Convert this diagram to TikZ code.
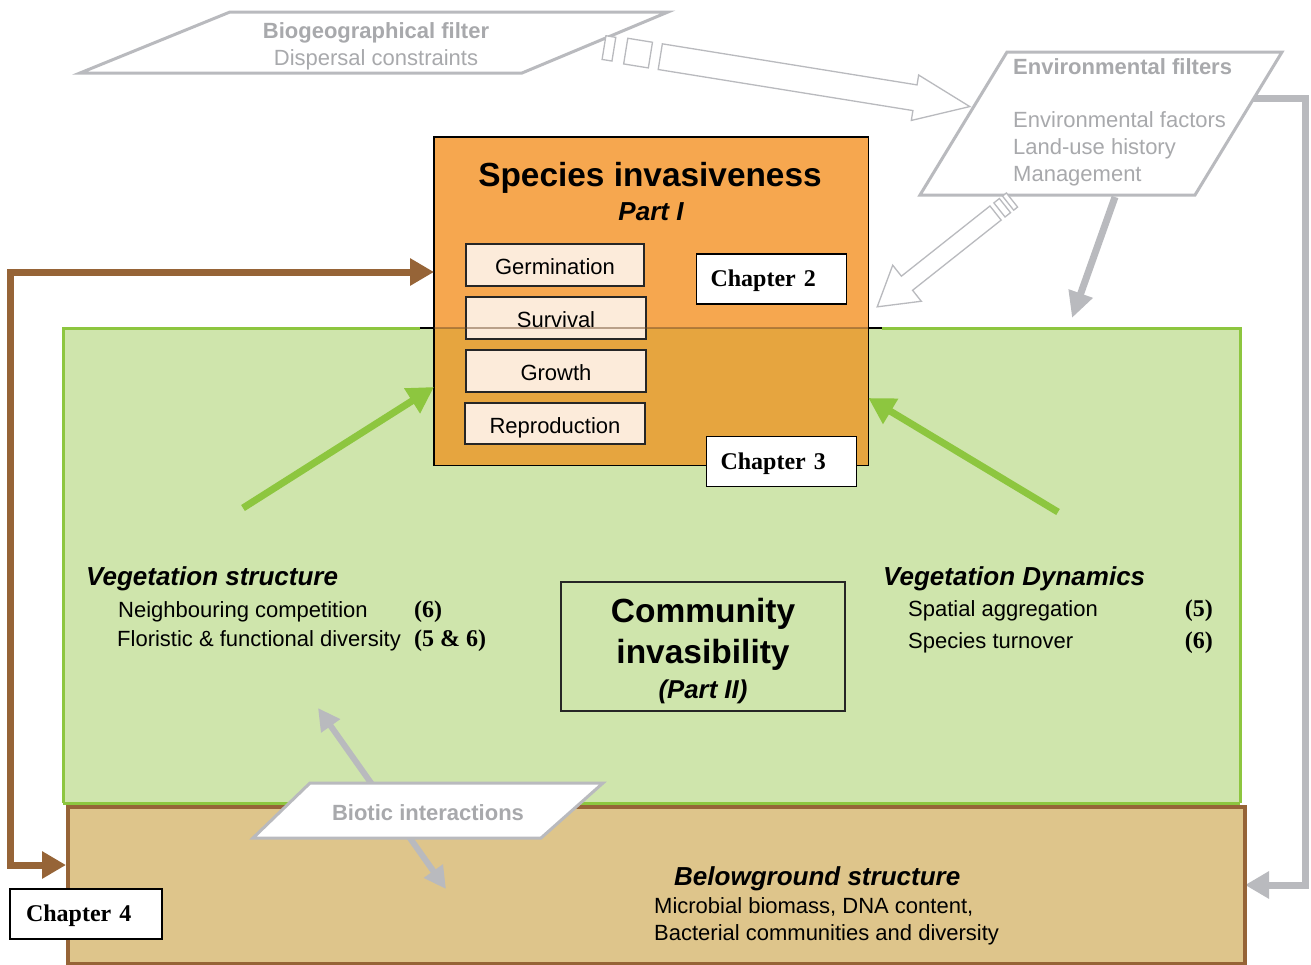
\documentclass[tikz,border=0pt]{standalone}
\usepackage{fontspec}
\setmainfont{Liberation Sans}
\newfontfamily\chapfont{Liberation Serif}
\usetikzlibrary{arrows.meta,calc}
\definecolor{orangefill}{RGB}{246,167,79}
\definecolor{olivetint}{RGB}{170,157,0}
\definecolor{creambox}{RGB}{252,235,218}
\definecolor{leaf}{RGB}{141,198,63}
\definecolor{leaffill}{RGB}{207,229,172}
\definecolor{soil}{RGB}{150,100,55}
\definecolor{soilfill}{RGB}{222,197,139}
\definecolor{haze}{RGB}{185,186,190}
\definecolor{hazetext}{RGB}{168,169,172}
\newcommand{\setfs}[1]{\fontsize{#1}{#1}\selectfont}

\begin{document}
\begin{tikzpicture}[x=1pt,y=-1pt,
  stagebox/.style={draw=black!85, line width=1.4pt, fill=creambox, minimum width=180pt,
    minimum height=42pt, inner sep=0pt, text height=22pt, text depth=2.2pt, font=\setfs{22}},
  chapbox/.style={draw=black, line width=1.4pt, fill=white, minimum height=50pt,
    text width=122pt, inner xsep=14pt, inner ysep=0pt, align=left,
    text height=16.5pt, text depth=1.2pt,
    font=\chapfont\bfseries\setfs{24}},
  filterbox/.style={draw=haze, line width=3pt, fill=white, line join=miter},
  hollow/.style={draw=haze, line width=1.3pt, fill=white, line join=miter},
  grayarrow/.style={draw=haze, line width=7pt, -{Triangle[length=26pt,width=24pt]}},
  grayelbow/.style={draw=haze, line width=7pt, line join=miter, -{Triangle[length=24pt,width=26pt]}},
  graydouble/.style={draw=haze, line width=6pt, {Triangle[length=22pt,width=22pt]}-{Triangle[length=22pt,width=22pt]}},
  greenarrow/.style={draw=leaf, line width=7pt, -{Triangle[length=26pt,width=28pt]}},
  brownlink/.style={draw=soil, line width=7pt, line join=miter,
    {Triangle[length=24pt,width=26pt]}-{Triangle[length=24pt,width=26pt]}},
  txt/.style={inner sep=0pt},
  graytxt/.style={inner sep=0pt, text=hazetext, font=\setfs{22}},
  numtxt/.style={inner sep=0pt, font=\chapfont\bfseries\setfs{24}}
]
\useasboundingbox[fill=white] (0,0) rectangle (1311,964);

% ---- elbow from the environmental filters down to the soil layer
\coordinate (envR) at (1250,98);
\coordinate (elbowA) at (1305,98);
\coordinate (elbowB) at (1305,885);
\coordinate (soilR) at (1245,885);
\draw[grayelbow] (envR) -- (elbowA) -- (elbowB) -- (soilR);

% ---- biogeographical filter
\draw[filterbox] (230,12) -- (668,12) -- (522,73) -- (80,73) -- cycle;
\node[graytxt, font=\bfseries\setfs{22}, anchor=base] (bio1) at (376,38) {Biogeographical filter};
\node[graytxt, anchor=base] (bio2) at (376,65) {Dispersal constraints};

% ---- environmental filters
\draw[filterbox] (1007,52) -- (1282,52) -- (1195,195) -- (920,195) -- cycle;
\node[graytxt, font=\bfseries\setfs{22}, anchor=base west] (env0) at (1013,74) {Environmental filters};
\node[graytxt, anchor=base west] (env1) at (1013,127) {Environmental factors};
\node[graytxt, anchor=base west] (env2) at (1013,154) {Land-use history};
\node[graytxt, anchor=base west] (env3) at (1013,181) {Management};

% ---- hollow arrow: dispersal towards the environmental filters
\begin{scope}[shift={(604,47.6)}, rotate=-9.16]
  \draw[hollow] (0,-12) rectangle (10,12);
  \draw[hollow] (22,-13) rectangle (47,13);
  \draw[hollow] (57,-13) -- (315,-13) -- (315,-23) -- (370.5,0) -- (315,23) -- (315,13) -- (57,13) -- cycle;
\end{scope}

% ---- hollow arrow: environmental filters towards species invasiveness
\begin{scope}[shift={(1012,200)}, rotate=218.4]
  \draw[hollow] (0,-9) rectangle (5,9);
  \draw[hollow] (9,-9) rectangle (16,9);
  \draw[hollow] (21,-9) -- (134,-9) -- (134,-23) -- (172,0) -- (134,23) -- (134,9) -- (21,9) -- cycle;
\end{scope}

% ---- environmental filters acting on the community
\coordinate (envB) at (1115,197);
\coordinate (vegTop) at (1072,318);
\draw[grayarrow] (envB) -- (vegTop);

% ---- vegetation layer
\node[fill=leaffill, minimum width=1177pt, minimum height=475pt, inner sep=0pt, anchor=north west] (veg) at (63,328) {};
\draw[leaf, line width=3pt] (420,328) -- (veg.north west) -- (veg.south west);
\draw[leaf, line width=3pt] (882,328) -- (veg.north east) -- (veg.south east);
\draw[leaf, line width=3pt] (veg.south west) -- (veg.south east);
\draw[black, line width=1.2pt] (420,328) -- (882,328);

% ---- soil layer
\node[draw=soil, line width=4pt, fill=soilfill, minimum width=1177pt, minimum height=157pt,
  inner sep=0pt, anchor=north west] (soil) at (66,805) {};

% ---- species invasiveness
\node[fill=orangefill, minimum width=434pt, minimum height=328pt, inner sep=0pt, anchor=north west] (inv) at (434,137) {};
\fill[olivetint, opacity=0.2] (434,328) rectangle (868,465);
\draw[black, line width=1.5pt] (inv.north west) rectangle (inv.south east);
\node[txt, font=\bfseries\setfs{33.4}, anchor=base] (invtitle) at (650,186) {Species invasiveness};
\node[txt, font=\bfseries\itshape\setfs{26}, anchor=base] (part1) at (651,220) {Part I};

\node[stagebox, minimum width=178pt] (germ) at (555,265) {Germination};
\node[stagebox] (surv) at (556,318) {Survival};
\node[stagebox] (grow) at (556,371) {Growth};
\node[stagebox, minimum height=41pt] (repro) at (555,423.5) {Reproduction};
\draw[soil!70!black, opacity=0.45, line width=1.2pt] (434,328) -- (868,328);

\node[chapbox] (ch2) at (771.5,279) {Chapter 2};
\node[chapbox] (ch3) at (781.5,461.5) {Chapter 3};
\node[chapbox, inner xsep=16pt, text width=120pt] (ch4) at (86,914) {Chapter 4};

% ---- community invasibility
\node[draw=black!85, line width=1.3pt, minimum width=284pt, minimum height=129pt, inner sep=0pt] (comm) at (703,646.5) {};
\node[txt, font=\bfseries\setfs{33.5}, anchor=base] (comm1) at (703,622) {Community};
\node[txt, font=\bfseries\setfs{33.5}, anchor=base] (comm2) at (703,663) {invasibility};
\node[txt, font=\bfseries\itshape\setfs{25.8}, anchor=base] (comm3) at (703,698) {(Part II)};

% ---- vegetation structure and dynamics
\node[txt, font=\bfseries\itshape\setfs{26}, anchor=base west] (vs0) at (86,585) {Vegetation structure};
\node[txt, font=\setfs{22}, anchor=base west] (vs1) at (118,617) {Neighbouring competition};
\node[txt, font=\setfs{22}, anchor=base west] (vs2) at (117,646) {Floristic \& functional diversity};
\node[numtxt, anchor=base west] (vs1n) at (414,617) {(6)};
\node[numtxt, anchor=base west] (vs2n) at (414,646) {(5 \& 6)};

\node[txt, font=\bfseries\itshape\setfs{26}, anchor=base west] (vd0) at (883,585) {Vegetation Dynamics};
\node[txt, font=\setfs{22}, anchor=base west] (vd1) at (908,616) {Spatial aggregation};
\node[txt, font=\setfs{22}, anchor=base west] (vd2) at (908,648) {Species turnover};
\node[numtxt, anchor=base east] (vd1n) at (1213,616) {(5)};
\node[numtxt, anchor=base east] (vd2n) at (1213,648) {(6)};

% ---- belowground structure
\node[txt, font=\bfseries\itshape\setfs{26}, anchor=base west] (bg0) at (674,885) {Belowground structure};
\node[txt, font=\setfs{22}, anchor=base west] (bg1) at (654,913) {Microbial biomass, DNA content,};
\node[txt, font=\setfs{22}, anchor=base west] (bg2) at (654,940) {Bacterial communities and diversity};

% ---- green arrows into species invasiveness
\coordinate (grL) at (243,508);
\coordinate (grR) at (1058,512);
\draw[greenarrow] (grL) -- (inv.west |- 0,387);
\draw[greenarrow] (grR) -- (inv.east |- 0,398);

% ---- chapter 4 loop between soil and species invasiveness
\coordinate (loopTop) at (10,272);
\coordinate (loopBot) at (10,865);
\draw[brownlink] (inv.west |- loopTop) -- (loopTop) -- (loopBot) -- (soil.west |- loopBot);

% ---- biotic interactions
\coordinate (bioUp) at (318,708);
\coordinate (bioDown) at (446,889);
\draw[graydouble] (bioUp) -- (bioDown);
\draw[filterbox] (310,783) -- (603,783) -- (541,838) -- (253,838) -- cycle;
\node[graytxt, font=\bfseries\setfs{22}, anchor=base] (biotic) at (428,820) {Biotic interactions};

\end{tikzpicture}
\end{document}
